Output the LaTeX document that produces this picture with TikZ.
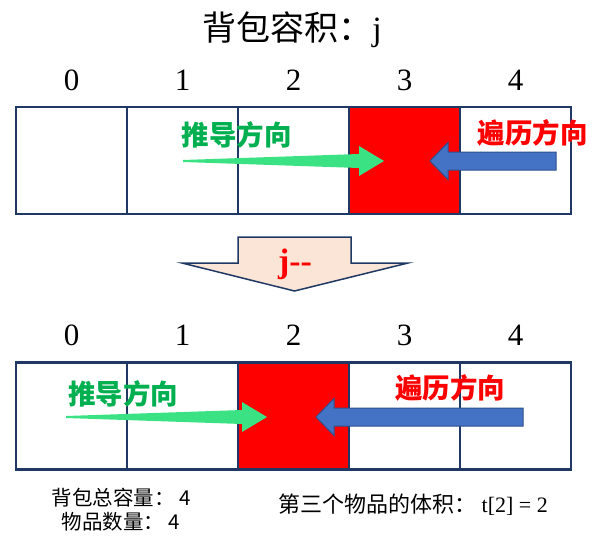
\documentclass[tikz,border=0pt]{standalone}
\usepackage{fontspec}
\setmainfont{Liberation Serif}
\newfontfamily\cjk{Noto Sans CJK SC}
\definecolor{navy}{HTML}{1F3864}
\definecolor{arrgreen}{HTML}{3BE284}
\definecolor{lblgreen}{HTML}{00B050}
\definecolor{bluefill}{HTML}{4472C4}
\definecolor{blueedge}{HTML}{2F528F}
\definecolor{peach}{HTML}{FBE5D6}
\begin{document}
\begin{tikzpicture}[x=1pt,y=-1pt,
  cell/.style={draw=navy,line width=2.2pt,fill=white,minimum width=111pt,minimum height=107pt,inner sep=0pt,outer sep=0pt},
  hot/.style={cell,fill=red},
  idx/.style={font=\fontsize{31}{34}\selectfont,inner sep=0pt},
  glbl/.style={font=\cjk\bfseries\fontsize{27.5}{30}\selectfont,text=lblgreen,inner sep=0pt},
  rlbl/.style={font=\cjk\bfseries\fontsize{27.5}{30}\selectfont,text=red,inner sep=0pt},
  note/.style={font=\fontsize{22}{24}\selectfont,inner sep=0pt,align=center},
  pics/greenarr/.style={code={\fill[arrgreen] (0,-1) -- (176,-7) -- (176,-15) -- (201,0) -- (176,15) -- (176,7) -- (0,1) -- cycle;}},
  pics/bluearr/.style={code={\draw[blueedge,fill=bluefill,line width=1pt,line join=miter] (0,0) -- (18,-18.5) -- (18,-9) -- (#1,-9) -- (#1,9) -- (18,9) -- (18,18.5) -- cycle;}}
]
\useasboundingbox (0,0) rectangle (594,546);

% title
\node[inner sep=0pt,font=\fontsize{34}{38}\selectfont] (title) at (292,30) {{\cjk 背包容积：}j};

% indices
\foreach \i in {0,...,4}{
  \node[idx] (ta\i) at ({71.5+111*\i},80) {\i};
  \node[idx] (ba\i) at ({71.5+111*\i},335) {\i};
}

% top row
\node[cell] (t0) at (71.5,160.5) {};
\node[cell] (t1) at (182.5,160.5) {};
\node[cell] (t2) at (293.5,160.5) {};
\node[cell] (t4) at (515.5,160.5) {};
\node[hot]  (t3) at (404.5,160.5) {};

% bottom row
\node[cell] (b0) at (71.5,416) {};
\node[cell] (b1) at (182.5,416) {};
\node[cell] (b3) at (404.5,416) {};
\node[cell] (b4) at (515.5,416) {};
\node[hot]  (b2) at (293.5,416) {};

% arrows top
\pic at (183,161) {greenarr};
\pic at (430,161) {bluearr=126};
\node[glbl] (tg) at (236.5,135) {推导方向};
\node[rlbl] (tr) at (532.5,133) {遍历方向};

% arrows bottom
\pic at (66,417) {greenarr};
\pic at (316,417) {bluearr=207};
\node[glbl] (bg) at (123,394) {推导方向};
\node[rlbl] (br) at (450,388) {遍历方向};

% middle down arrow
\draw[navy,fill=peach,line width=1.5pt,line join=miter]
  (238,237) -- (351,237) -- (351,263) -- (408,263) -- (294.5,291) -- (182,263) -- (238,263) -- cycle;
\node[inner sep=0pt,text=red,font=\bfseries\fontsize{34}{38}\selectfont] (jm) at (295,264) {j-{}-};

% notes
\node[note,font=\cjk\fontsize{20.5}{24}\selectfont] (n1) at (121,510) {背包总容量： 4\\物品数量： 4};
\node[note] (n2) at (413,505) {{\cjk 第三个物品的体积：} t[2] = 2};
\end{tikzpicture}
\end{document}
